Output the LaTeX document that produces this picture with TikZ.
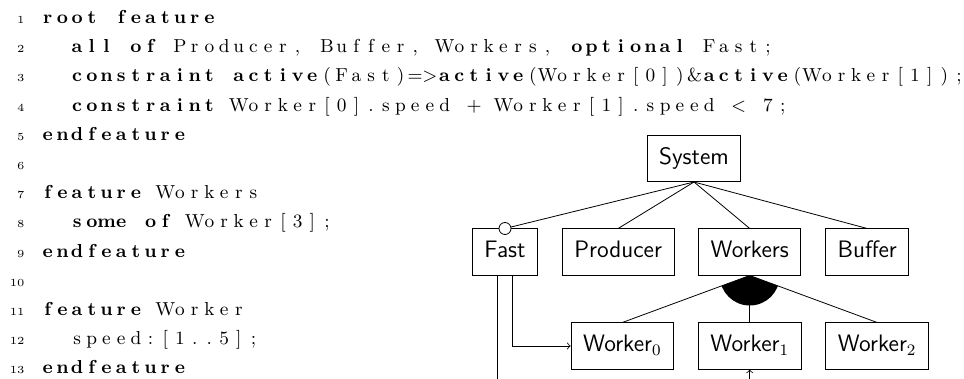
\documentclass[tikz,border=0pt]{standalone}
\usepackage{tikz}
\usetikzlibrary{positioning}

% fixed columns for the listing
\newlength\colw
\setlength\colw{7.35pt}
\newcommand\fixstop{}
\newcommand\fixcols[1]{\fixloop#1\fixstop}
\newcommand\fixloop[1]{\ifx#1\fixstop\else\makebox[\colw]{#1}\expandafter\fixloop\fi}
\newcommand\kw[1]{{\bfseries\fixcols{#1}}}
\newcommand\tx[1]{\fixcols{#1}}

\begin{document}
\begin{tikzpicture}[x=0.5pt,y=-0.5pt,
    codeline/.style={anchor=base west,inner sep=0pt,font=\fontsize{9.4}{11}\selectfont},
    lineno/.style={anchor=base east,inner sep=0pt,font=\fontsize{5.4}{6}\selectfont},
    feat/.style={draw,font=\fontsize{11.9}{14}\sffamily,inner xsep=6pt,inner ysep=6.2pt,
      text height=8.3pt,text depth=2.4pt},
    node distance=23.5pt and 12pt]
    \useasboundingbox (0,0) rectangle (964,379);
    \clip (0,0) rectangle (964,379);

    % line numbers
    \foreach \i in {1,...,13}
        \node[lineno] (num\i) at (25,{23.5+29.2*(\i-1)}) {\i};

    % listing
    \node[codeline] (code1) at (40,23.5) {\kw{root~feature}};
    \node[codeline] (code2) at (40,52.7) {\tx{~~}\kw{all~of}\tx{~Producer,~Buffer,~Workers,~}\kw{optional}\tx{~Fast;}};
    \node[codeline] (code3) at (40,81.9) {\tx{~~}\kw{constraint~active}\tx{(Fast)=>}\kw{active}\tx{(Worker[0])\&}\kw{active}\tx{(Worker[1]);}};
    \node[codeline] (code4) at (40,111.1) {\tx{~~}\kw{constraint}\tx{~Worker[0].speed~+~Worker[1].speed~<~7;}};
    \node[codeline] (code5) at (40,140.3) {\kw{endfeature}};
    \node[codeline] (code7) at (40,198.7) {\kw{feature}\tx{~Workers}};
    \node[codeline] (code8) at (40,227.9) {\tx{~~}\kw{some~of}\tx{~Worker[3];}};
    \node[codeline] (code9) at (40,257.1) {\kw{endfeature}};
    \node[codeline] (code11) at (40,315.5) {\kw{feature}\tx{~Worker}};
    \node[codeline] (code12) at (40,344.7) {\tx{~~speed:[1..5];}};
    \node[codeline] (code13) at (40,373.9) {\kw{endfeature}};

    % feature tree
    \node[feat] (system) at (694,158.5) {System};
    \node[feat] (fast) at (505,252) {Fast};
    \node[feat,right=of fast] (producer) {Producer};
    \node[feat,right=of producer] (workers) {Workers};
    \node[feat,right=of workers] (buffer) {Buffer};
    \node[feat,below=of workers] (worker1) {Worker$_1$};
    \node[feat,left=of worker1] (worker0) {Worker$_0$};
    \node[feat,right=of worker1] (worker2) {Worker$_2$};

    % children of the root
    \draw (system.south) -- (fast.north);
    \draw (system.south) -- (producer.north);
    \draw (system.south) -- (workers.north);
    \draw (system.south) -- (buffer.north);
    \draw[fill=white] (fast.north) circle (3pt);

    % or group
    \draw (workers.south) -- (worker0.north);
    \draw (workers.south) -- (worker1.north);
    \draw (workers.south) -- (worker2.north);
    \begin{scope}
        \clip (workers.south) -- (worker0.north) -- (worker2.north) -- cycle;
        \fill (workers.south) circle (15pt);
    \end{scope}

    % constraint arrows
    \coordinate (under) at (0,420);
    \draw[->] ([xshift=3.75pt]fast.south) |- (worker0.west);
    \draw[->] ([xshift=-3.75pt]fast.south) |- (worker1.south |- under) -- (worker1.south);
\end{tikzpicture}
\end{document}
